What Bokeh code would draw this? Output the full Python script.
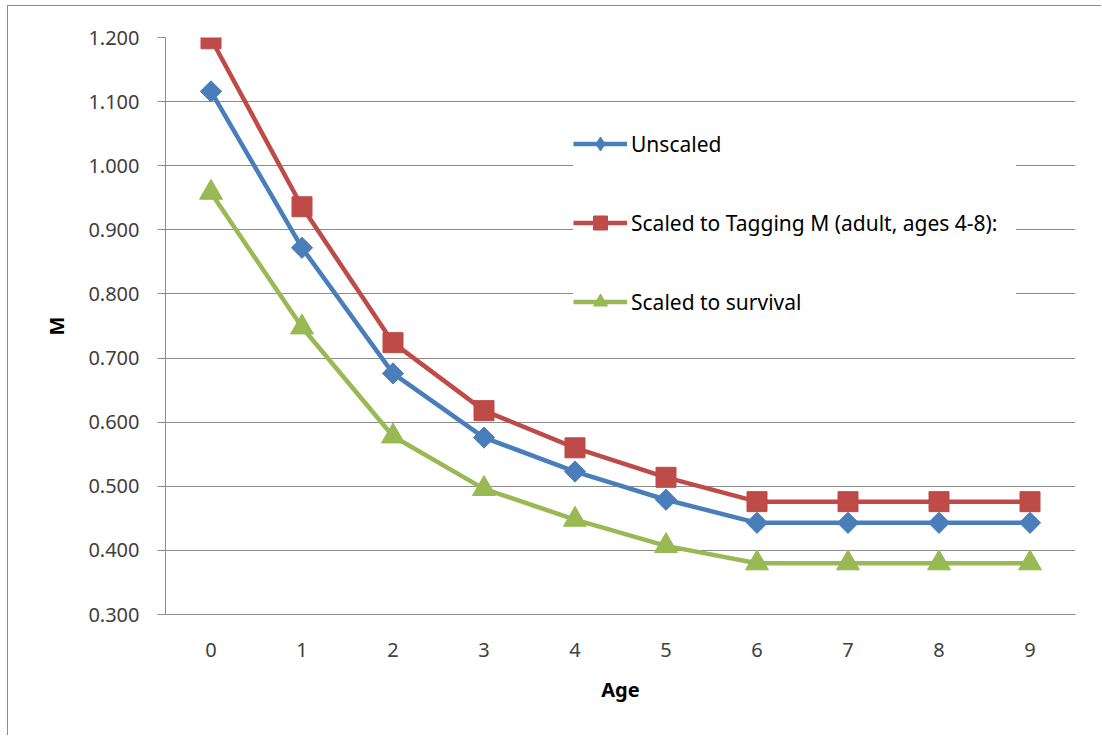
from bokeh.plotting import figure
from bokeh.models import Legend, LegendItem, Range1d, FixedTicker, NumeralTickFormatter
from bokeh.embed import file_html
from bokeh.resources import INLINE

ages = [0, 1, 2, 3, 4, 5, 6, 7, 8, 9]
unscaled = [1.116, 0.872, 0.676, 0.576, 0.523, 0.479, 0.443, 0.443, 0.443, 0.443]
tagging = [1.198, 0.936, 0.724, 0.618, 0.560, 0.514, 0.476, 0.476, 0.476, 0.476]
survival = [0.958, 0.748, 0.578, 0.496, 0.448, 0.407, 0.380, 0.380, 0.380, 0.380]
y_ticks = [0.3, 0.4, 0.5, 0.6, 0.7, 0.8, 0.9, 1.0, 1.1, 1.2]
series_names = ["Unscaled", "Scaled to Tagging M (adult, ages 4-8):", "Scaled to survival"]

FONT = "Noto Sans"
W, H = 1094, 730
FW, FH = 910, 577
ML, MT = 157, 31
p = figure(width=W, height=H, output_backend="svg", toolbar_location=None,
           x_range=Range1d(-0.5, 9.5), y_range=Range1d(0.3, 1.2),
           min_border_left=ML, min_border_right=W - ML - FW,
           min_border_top=MT, min_border_bottom=H - MT - FH)
p.margin = (5, 0, 0, 7)
p.styles = {"border-left": "1.5px solid #8c8c8c", "border-top": "1.5px solid #8c8c8c"}
p.outline_line_color = None
p.background_fill_color = "white"
p.border_fill_color = "white"

p.xaxis.ticker = FixedTicker(ticks=ages)
p.yaxis.ticker = FixedTicker(ticks=y_ticks)
p.yaxis.formatter = NumeralTickFormatter(format="0.000")
p.xgrid.grid_line_color = None
p.ygrid.grid_line_color = "#8c8c8c"
p.ygrid.grid_line_width = 1

for ax in (p.xaxis, p.yaxis):
    ax.axis_line_color = "#8c8c8c"
    ax.major_label_text_font = FONT
    ax.major_label_text_font_size = "20px"
    ax.major_label_text_color = "#404040"
    ax.axis_label_text_font = FONT
    ax.axis_label_text_font_size = "20px"
    ax.axis_label_text_font_style = "bold"
    ax.axis_label_text_color = "#000000"
    ax.minor_tick_line_color = None

p.xaxis.major_tick_line_color = None
p.xaxis.major_label_standoff = 22
p.xaxis.axis_label = "Age"
p.xaxis.axis_label_standoff = 16
p.yaxis.major_tick_line_color = "#8c8c8c"
p.yaxis.major_tick_in = 0
p.yaxis.major_tick_out = 8
p.yaxis.major_label_standoff = 18
p.yaxis.axis_label = "M"
p.yaxis.axis_label_standoff = 15

colors = ["#4A7EBB", "#BE4B48", "#98B954"]

# Unscaled: diamond (legend uses a plain diamond hidden under the rotated squares)
l0 = p.line(ages, unscaled, line_color=colors[0], line_width=4.5)
d0 = p.scatter(ages, unscaled, marker="diamond", size=15, fill_color=colors[0], line_color=colors[0])
p.scatter(ages, unscaled, marker="square", angle=0.7854, size=15, fill_color=colors[0], line_color=colors[0])

l1 = p.line(ages, tagging, line_color=colors[1], line_width=4.5)
s1 = p.scatter(ages, tagging, marker="square", size=20, fill_color=colors[1], line_color=colors[1])

l2 = p.line(ages, survival, line_color=colors[2], line_width=4.5)
s2 = p.scatter(ages, survival, marker="triangle", size=23, fill_color=colors[2], line_color=colors[2])

items = [LegendItem(label=series_names[0], renderers=[l0, d0]),
         LegendItem(label=series_names[1], renderers=[l1, s1]),
         LegendItem(label=series_names[2], renderers=[l2, s2])]

legend = Legend(items=items, location=(408, 295), padding=6, margin=0,
                spacing=44, glyph_width=54, glyph_height=35, label_height=35,
                label_width=385, label_standoff=4, label_text_font=FONT,
                label_text_font_size="21px",
                label_text_color="#000000", border_line_color=None,
                background_fill_color="white", background_fill_alpha=1.0)
p.add_layout(legend, "center")

open("out.html", "w").write(file_html(p, INLINE))
